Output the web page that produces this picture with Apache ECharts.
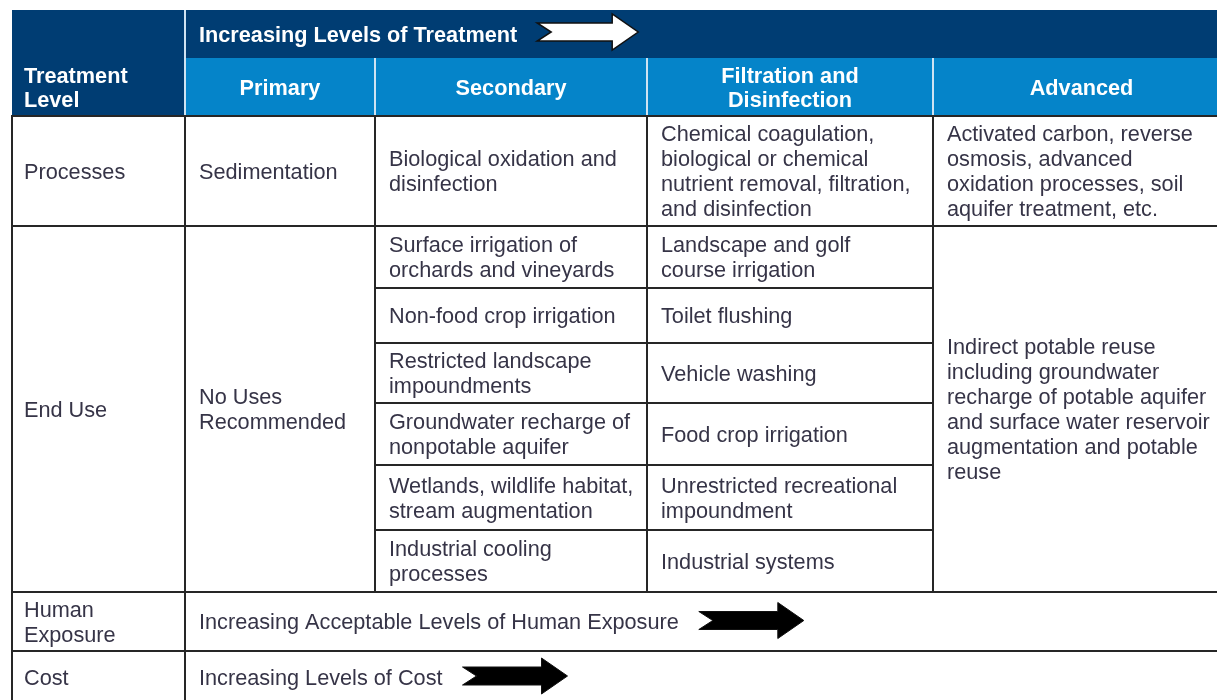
<!DOCTYPE html>
<html>
<head>
<meta charset="utf-8">
<script src="https://cdn.jsdelivr.net/npm/echarts@6/dist/echarts.min.js"></script>
<style>
  html, body { margin: 0; padding: 0; background: #fff; }
  #table { width: 1217px; height: 700px; }
</style>
</head>
<body>
<div id="table"></div>
<script>
// table content
var cornerLabel = 'Treatment\nLevel';
var headerTitle = 'Increasing Levels of Treatment';
var treatmentLevels = ['Primary', 'Secondary', 'Filtration and\nDisinfection', 'Advanced'];
var rowLabels = ['Processes', 'End Use', 'Human\nExposure', 'Cost'];
var processes = [
    'Sedimentation',
    'Biological oxidation and\ndisinfection',
    'Chemical coagulation,\nbiological or chemical\nnutrient removal, filtration,\nand disinfection',
    'Activated carbon, reverse\nosmosis, advanced\noxidation processes, soil\naquifer treatment, etc.'
];
var primaryUses = ['No Uses\nRecommended'];
var secondaryUses = [
    'Surface irrigation of\norchards and vineyards',
    'Non-food crop irrigation',
    'Restricted landscape\nimpoundments',
    'Groundwater recharge of\nnonpotable aquifer',
    'Wetlands, wildlife habitat,\nstream augmentation',
    'Industrial cooling\nprocesses'
];
var filtrationUses = [
    'Landscape and golf\ncourse irrigation',
    'Toilet flushing',
    'Vehicle washing',
    'Food crop irrigation',
    'Unrestricted recreational\nimpoundment',
    'Industrial systems'
];
var advancedUses = ['Indirect potable reuse\nincluding groundwater\nrecharge of potable aquifer\nand surface water reservoir\naugmentation and potable\nreuse'];
var exposureText = 'Increasing Acceptable Levels of Human Exposure';
var costText = 'Increasing Levels of Cost';

// layout (pixel units on the hidden axes)
var colX = [12, 185, 375, 647, 933, 1230];
var bandY = [10, 58, 116, 226, 592, 651, 703];
var endUseY = [226, 288, 343, 403, 465, 530, 592];

var NAVY = '#003d73';
var BLUE = '#0584c9';
var INK = '#363447';
var FONT = '"Liberation Sans", Arial, sans-serif';
var SIZE = 21.7;

var cells = [];
function addCell(x0, x1, y0, y1, text, kind, arrow) {
    cells.push({ x0: x0, x1: x1, y0: y0, y1: y1, text: text, kind: kind, arrow: arrow });
}

addCell(colX[0], colX[1], bandY[0], bandY[2], cornerLabel, 'corner');
addCell(colX[1], colX[5], bandY[0], bandY[1], headerTitle, 'title', 'white');
treatmentLevels.forEach(function (t, i) {
    addCell(colX[i + 1], colX[i + 2], bandY[1], bandY[2], t, 'level');
});

addCell(colX[0], colX[1], bandY[2], bandY[3], rowLabels[0], 'label');
processes.forEach(function (t, i) {
    addCell(colX[i + 1], colX[i + 2], bandY[2], bandY[3], t, 'body');
});

addCell(colX[0], colX[1], bandY[3], bandY[4], rowLabels[1], 'label');
addCell(colX[1], colX[2], bandY[3], bandY[4], primaryUses[0], 'body');
secondaryUses.forEach(function (t, i) {
    addCell(colX[2], colX[3], endUseY[i], endUseY[i + 1], t, 'body');
});
filtrationUses.forEach(function (t, i) {
    addCell(colX[3], colX[4], endUseY[i], endUseY[i + 1], t, 'body');
});
addCell(colX[4], colX[5], bandY[3], bandY[4], advancedUses[0], 'body');

addCell(colX[0], colX[1], bandY[4], bandY[5], rowLabels[2], 'label');
addCell(colX[1], colX[5], bandY[4], bandY[5], exposureText, 'body', 'black');
addCell(colX[0], colX[1], bandY[5], bandY[6] + 12, rowLabels[3], 'label');
addCell(colX[1], colX[5], bandY[5], bandY[6] + 12, costText, 'body', 'black');

// measure text so the arrows sit right after it
var measureCtx = document.createElement('canvas').getContext('2d');
function textWidth(str, bold) {
    measureCtx.font = (bold ? 'bold ' : '') + SIZE + 'px ' + FONT;
    return measureCtx.measureText(str).width;
}

function arrowPoints(xs, yc, len) {
    var head = 26, hb = 9, hh = 18, notch = 14;
    return [
        [xs, yc - hb], [xs + len - head, yc - hb], [xs + len - head, yc - hh],
        [xs + len, yc], [xs + len - head, yc + hh], [xs + len - head, yc + hb],
        [xs, yc + hb], [xs + notch, yc]
    ];
}

var myChart = echarts.init(document.getElementById('table'));

var option = {
    backgroundColor: '#fff',
    animation: false,
    grid: { left: 0, right: 0, top: 0, bottom: 0 },
    xAxis: { type: 'value', min: 0, max: 1217, show: false },
    yAxis: { type: 'value', min: 0, max: 700, inverse: true, show: false },
    series: [{
        type: 'custom',
        clip: false,
        encode: { x: [0, 2], y: [1, 3] },
        data: cells.map(function (c, i) { return [c.x0, c.y0, c.x1, c.y1, i]; }),
        renderItem: function (params, api) {
            var c = cells[api.value(4)];
            var p0 = api.coord([api.value(0), api.value(1)]);
            var p1 = api.coord([api.value(2), api.value(3)]);
            var w = p1[0] - p0[0], h = p1[1] - p0[1];
            var midY = p0[1] + h / 2;
            // the cost row runs past the bottom edge, centre it on the visible part
            if (c.text === costText || c.text === rowLabels[3]) {
                midY = p0[1] + (api.coord([0, bandY[6]])[1] - p0[1]) / 2;
            }
            var children = [];
            var header = c.kind === 'corner' || c.kind === 'title' || c.kind === 'level';

            if (header) {
                children.push({
                    type: 'rect',
                    shape: { x: p0[0], y: p0[1], width: w, height: h },
                    style: { fill: c.kind === 'level' ? BLUE : NAVY }
                });
                if (c.kind !== 'corner') {
                    children.push({
                        type: 'line',
                        shape: { x1: p0[0], y1: p0[1], x2: p0[0], y2: p1[1] },
                        style: { stroke: '#cfe3f2', lineWidth: 2 }
                    });
                }
            } else {
                children.push({
                    type: 'rect',
                    shape: { x: p0[0], y: p0[1], width: w, height: h },
                    style: { fill: 'none', stroke: '#262626', lineWidth: 2 }
                });
            }

            var tx, ty, align = 'left';
            if (c.kind === 'corner') { tx = p0[0] + 12; ty = p1[1] - 27; }
            else if (c.kind === 'level') { tx = p0[0] + w / 2; ty = midY + 2; align = 'center'; }
            else if (c.kind === 'label') { tx = p0[0] + 12; ty = midY + 2; }
            else { tx = p0[0] + 14; ty = midY + 2; }

            children.push({
                type: 'text',
                style: {
                    text: c.text,
                    x: tx,
                    y: ty,
                    align: align,
                    verticalAlign: 'middle',
                    fill: header ? '#fff' : INK,
                    font: (header ? 'bold ' : '') + SIZE + 'px ' + FONT,
                    lineHeight: header ? 24 : 25
                }
            });

            if (c.arrow) {
                var xs = tx + textWidth(c.text, header) + 20;
                var white = c.arrow === 'white';
                children.push({
                    type: 'polygon',
                    shape: { points: arrowPoints(xs, white ? ty - 4 : ty - 3, white ? 101 : 105) },
                    style: {
                        fill: white ? '#fff' : '#000',
                        stroke: '#111',
                        lineWidth: white ? 1.5 : 1
                    }
                });
            }
            return { type: 'group', children: children };
        }
    }]
};

myChart.setOption(option);
</script>
</body>
</html>
